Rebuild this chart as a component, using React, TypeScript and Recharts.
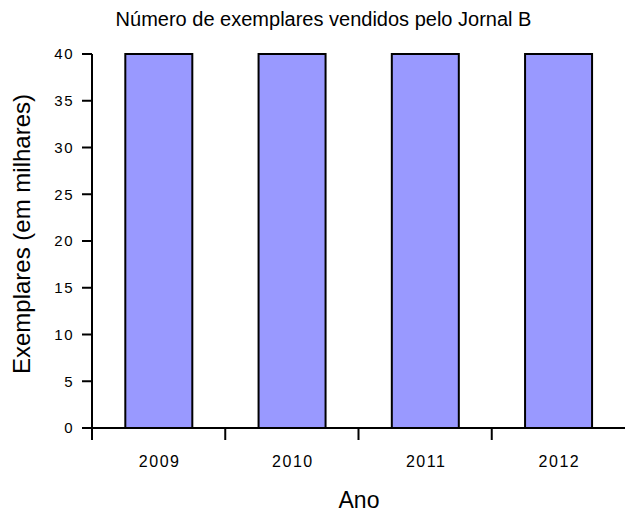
import React from 'react';
import { BarChart, Bar, XAxis, YAxis, Label } from 'recharts';

const years = ['2009', '2010', '2011', '2012'];
const exemplares = [40, 40, 40, 40];
const yTicks = [0, 5, 10, 15, 20, 25, 30, 35, 40];

const title = 'Número de exemplares vendidos pelo Jornal B';
const yTitle = 'Exemplares (em milhares)';
const xTitle = 'Ano';

const W = 628;
const H = 514;
const margin = { top: 54, right: 3, left: 32, bottom: 0 };
const Y_AXIS_W = 60;
const X_AXIS_H = 86;
const FONT = 'Liberation Sans, Arial, sans-serif';

const data = years.map((year, i) => ({ year, value: exemplares[i] }));

const plotW = W - margin.left - margin.right - Y_AXIS_W;
const band = plotW / years.length;
const axisY = H - margin.bottom - X_AXIS_H;

// ticks sit between the categories, labels in the middle
const YearTick = (props: any) => {
  const { x, payload } = props;
  const lx = x - band / 2;
  return (
    <g>
      <line x1={lx} y1={axisY} x2={lx} y2={axisY + 12} stroke="#000" strokeWidth={2} />
      <text
        x={x + 1}
        y={axisY + 39}
        textAnchor="middle"
        fontSize={16}
        letterSpacing={1.5}
        fill="#000"
        fontFamily={FONT}
      >
        {payload.value}
      </text>
    </g>
  );
};

export default function App() {
  return (
    <div
      style={{
        position: 'absolute',
        left: 0,
        top: 0,
        width: W,
        height: H,
        background: '#fff',
        fontFamily: FONT,
      }}
    >
      <div
        style={{
          position: 'absolute',
          left: 0,
          top: 8,
          width: 647,
          textAlign: 'center',
          fontSize: 20,
          color: '#000',
        }}
      >
        {title}
      </div>
      <BarChart width={W} height={H} data={data} margin={margin} barCategoryGap="25%">
        <XAxis
          dataKey="year"
          height={X_AXIS_H}
          axisLine={{ stroke: '#000', strokeWidth: 2 }}
          tickLine={false}
          tick={<YearTick />}
          interval={0}
        >
          <Label
            content={() => (
              <text x={359} y={508} textAnchor="middle" fontSize={23} fill="#000" fontFamily={FONT}>
                {xTitle}
              </text>
            )}
          />
        </XAxis>
        <YAxis
          width={Y_AXIS_W}
          domain={[0, 40]}
          ticks={yTicks}
          interval={0}
          tickSize={10}
          tickMargin={8}
          axisLine={{ stroke: '#000', strokeWidth: 2 }}
          tickLine={{ stroke: '#000', strokeWidth: 2 }}
          tick={{ fill: '#000', fontSize: 15, fontFamily: FONT, letterSpacing: 1.5 }}
        >
          <Label
            content={() => (
              <text
                x={30}
                y={234}
                transform="rotate(-90, 30, 234)"
                textAnchor="middle"
                fontSize={24}
                fill="#000"
                fontFamily={FONT}
              >
                {yTitle}
              </text>
            )}
          />
        </YAxis>
        <Bar dataKey="value" fill="#9999FF" stroke="#000" strokeWidth={2} isAnimationActive={false} />
      </BarChart>
    </div>
  );
}
